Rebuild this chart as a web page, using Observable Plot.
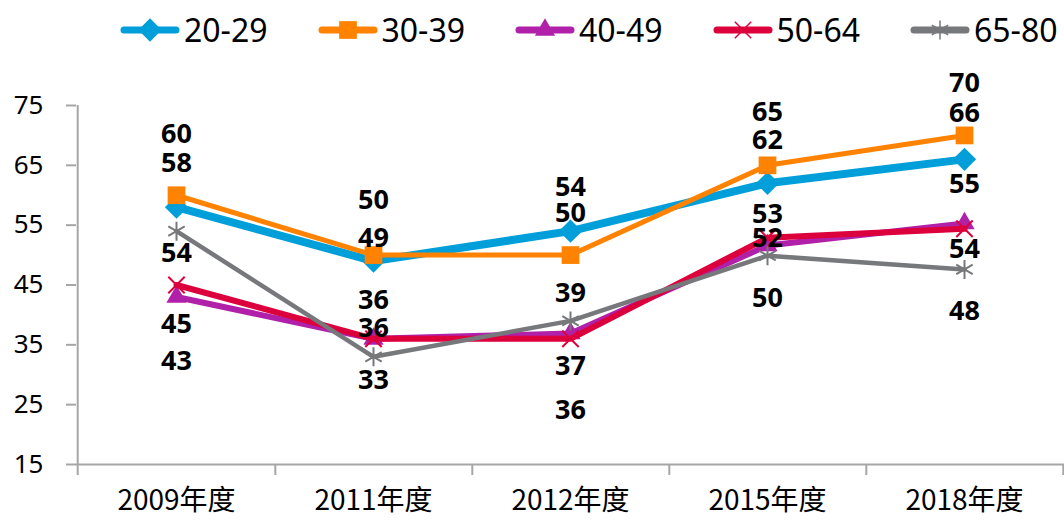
<!DOCTYPE html>
<html><head><meta charset="utf-8">
<script src="https://cdn.jsdelivr.net/npm/d3@7"></script>
<script src="https://cdn.jsdelivr.net/npm/@observablehq/plot@0.6"></script>
<style>
body{margin:0;background:#fff;font-family:"Noto Sans",sans-serif;}
#legend{height:60px;display:flex;align-items:center;padding-left:120px;box-sizing:border-box;}
.item{display:flex;align-items:center;width:197.5px;flex:none;}
.item span{font-size:32px;color:#000;margin-left:4px;line-height:1;}
</style></head><body>
<div id="legend"></div><div id="chart"></div>
<script>
// ---- data ----
const years = ["2009年度","2011年度","2012年度","2015年度","2018年度"];
const seriesNames = ["20-29","30-39","40-49","50-64","65-80"];
const v2029 = [58, 49, 54, 62, 66];
const v3039 = [60, 50, 50, 65, 70];
const v4049 = [43, 36, 36.9, 51.6, 55.3];
const v5064 = [45, 36, 36, 52.9, 54.4];
const v6580 = [54, 33, 39, 49.9, 47.6];
const yTicks = [15, 25, 35, 45, 55, 65, 75];

// ---- styles / layout ----
const styles = [
  {color:"#009FDA", width:8,   symbol:"diamond2", r:10.5, filled:true},
  {color:"#FF8200", width:5,   symbol:"square",   r:10,   filled:true},
  {color:"#B020A8", width:6,   symbol:"triangle", r:7.5,  filled:true},
  {color:"#DC003C", width:6,   symbol:"times",    r:7.5,  filled:false},
  {color:"#77787B", width:4.5, symbol:"asterisk", r:9,    filled:false}
];
// pixel offsets of the data labels (per series, per year)
const labelDy = [
  [-44, -23, -44, -43, -46],
  [-61, -55, -42, -53, -52],
  [ 64, -10,  33,  -7, -39],
  [ 39, -38,  72, -23,  21],
  [ 22,  24, -28,  43,  42]
];

const values = [v2029, v3039, v4049, v5064, v6580];
const rows = values.flatMap((vals, s) => vals.map((v, i) => ({series: seriesNames[s], s, year: years[i], i, value: v})));

// ---- legend ----
const symMap = {diamond2: d3.symbolDiamond2, square: d3.symbolSquare, triangle: d3.symbolTriangle, times: d3.symbolTimes, asterisk: d3.symbolAsterisk};
const legend = document.getElementById("legend");
seriesNames.forEach((name, s) => {
  const st = styles[s];
  const item = document.createElement("div");
  item.className = "item";
  const path = d3.symbol(symMap[st.symbol], st.r * st.r * Math.PI)();
  item.innerHTML = `<svg width="60" height="30" viewBox="0 0 60 30">
    <line x1="4" y1="15" x2="56" y2="15" stroke="${st.color}" stroke-width="7" stroke-linecap="round"/>
    <path transform="translate(30,15)" d="${path}" fill="${st.filled ? st.color : "none"}" stroke="${st.color}" stroke-width="${st.filled ? 0 : 1.5}"/>
  </svg><span>${name}</span>`;
  legend.appendChild(item);
});

// ---- chart ----
const width = 1064, height = 465;
const marginLeft = 76, marginRight = 0, marginTop = 45, marginBottom = 61;
const plotW = width - marginLeft - marginRight;
const plotH = height - marginTop - marginBottom;
const step = plotW / years.length;
const axisColor = "#A6A6A6";

const marks = [
  // y tick marks
  Plot.ruleY(yTicks, {y: d => d, stroke: axisColor, strokeWidth: 2, insetLeft: -10, insetRight: plotW}),
  // y tick labels
  Plot.text(yTicks, {y: d => d, text: d => String(d), frameAnchor: "left", textAnchor: "end", dx: -33, fontSize: 26, fill: "#000"}),
  // x axis line
  Plot.ruleY([15], {stroke: axisColor, strokeWidth: 2}),
  // y axis line
  Plot.ruleX([years[0]], {x: d => d, dx: -step / 2, stroke: axisColor, strokeWidth: 2}),
  // x boundary ticks
  Plot.ruleX([years[0]], {x: d => d, dx: -step / 2, stroke: axisColor, strokeWidth: 2, insetTop: plotH, insetBottom: -11}),
  Plot.ruleX(years, {x: d => d, dx: step / 2, stroke: axisColor, strokeWidth: 2, insetTop: plotH, insetBottom: -11}),
  // x labels
  Plot.text(years, {x: d => d, text: d => d, frameAnchor: "bottom", dy: 45, fontSize: 28, fill: "#000", fontFamily: "'Noto Sans CJK TC', 'Noto Sans', sans-serif"})
];

seriesNames.forEach((name, s) => {
  const st = styles[s];
  const data = rows.filter(d => d.s === s);
  marks.push(Plot.line(data, {x: "year", y: "value", stroke: st.color, strokeWidth: st.width, strokeLinejoin: "round", strokeLinecap: "round"}));
  marks.push(Plot.dot(data, {x: "year", y: "value", symbol: () => st.symbol, r: st.r,
    fill: st.filled ? st.color : "none", stroke: st.filled ? "none" : st.color, strokeWidth: 2}));
});

rows.forEach(d => {
  marks.push(Plot.text([d], {x: "year", y: "value", text: d => String(Math.round(d.value)), dy: labelDy[d.s][d.i],
    fontSize: 27, fontWeight: "bold", fill: "#000"}));
});

const chart = Plot.plot({
  width, height, marginLeft, marginRight, marginTop, marginBottom,
  x: {type: "point", domain: years, padding: 0.5, axis: null},
  y: {domain: [15, 75], axis: null},
  symbol: {type: "identity"},
  style: {fontFamily: "'Noto Sans', sans-serif", background: "#fff", overflow: "visible"},
  marks
});
document.getElementById("chart").appendChild(chart);
</script>
</body></html>
